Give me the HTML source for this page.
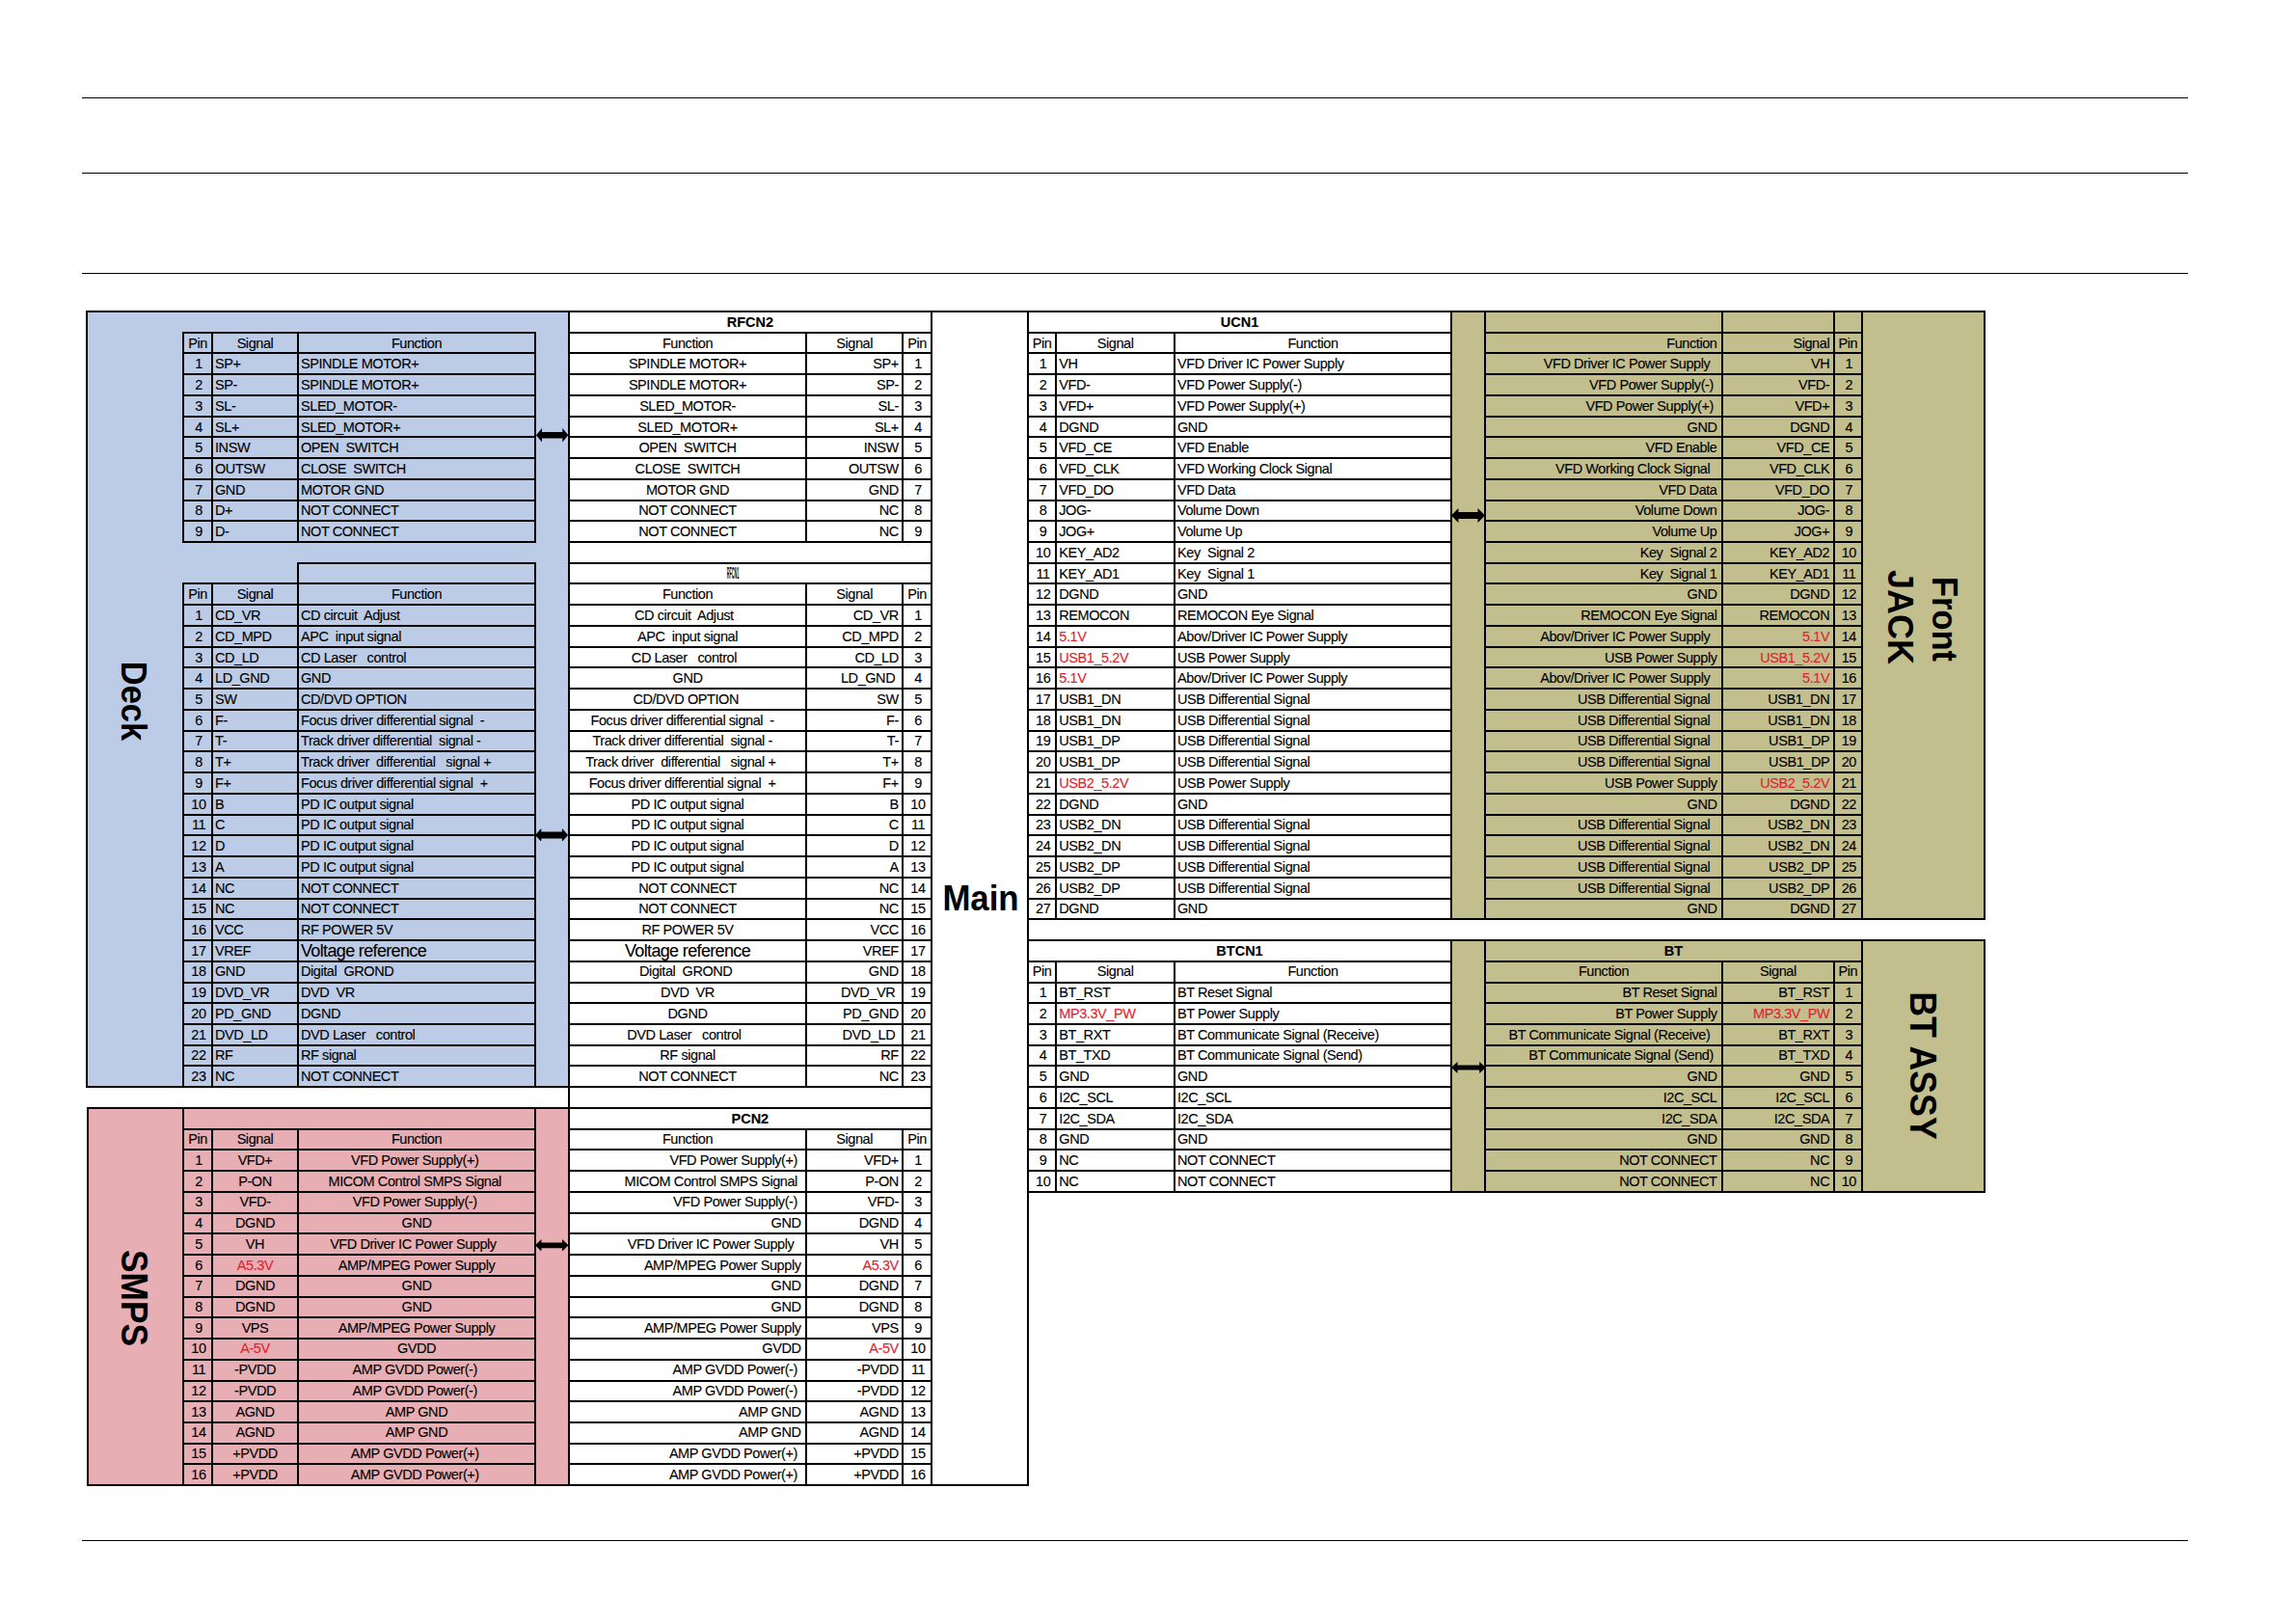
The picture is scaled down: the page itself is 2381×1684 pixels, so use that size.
<!DOCTYPE html>
<html><head><meta charset="utf-8"><title>Connector pin map</title><style>
*{margin:0;padding:0;box-sizing:border-box}
html,body{width:2381px;height:1684px;background:#fff;overflow:hidden}
body{position:relative;font-family:"Liberation Sans",sans-serif;color:#000}
.f,.l,.t,.ar,.lab{position:absolute}
.l{background:#000}
.t{height:21.738px;line-height:21.738px;font-size:14.5px;letter-spacing:-0.43px;-webkit-text-stroke:0.12px currentColor;white-space:pre;padding-top:2px;overflow:visible}
.t.tl{text-align:left;padding-left:2px}
.t.tc{text-align:center}
.t.tr{text-align:right;padding-right:3.5px}
.t.tr.fn{padding-right:4.5px}
.t.tc.pn{padding-left:2px}
.t.b{font-weight:bold;letter-spacing:0}
.t.red{color:#e0242e}
.t.big{font-size:18px;letter-spacing:-0.65px}
.t.sq span{display:inline-block}
.lab{font-weight:bold;white-space:nowrap;line-height:1}
.sq{position:absolute;font-weight:bold;font-size:16px;line-height:16px;width:60px;text-align:center;transform:scaleX(0.235);transform-origin:50% 50%}
</style></head>
<body>
<div class="f" style="left:90.0px;top:322.9px;width:500.0px;height:804.3px;background:#bdcce6"></div><div class="f" style="left:91.0px;top:1148.9px;width:499.0px;height:391.3px;background:#e7afb4"></div><div class="f" style="left:1505.0px;top:322.9px;width:553.0px;height:630.4px;background:#c2be8d"></div><div class="f" style="left:1505.0px;top:975.0px;width:553.0px;height:260.9px;background:#c2be8d"></div><div class="l" style="left:189px;top:344px;width:367px;height:2px"></div><div class="l" style="left:189px;top:365px;width:367px;height:2px"></div><div class="l" style="left:189px;top:387px;width:367px;height:2px"></div><div class="l" style="left:189px;top:409px;width:367px;height:2px"></div><div class="l" style="left:189px;top:431px;width:367px;height:2px"></div><div class="l" style="left:189px;top:452px;width:367px;height:2px"></div><div class="l" style="left:189px;top:474px;width:367px;height:2px"></div><div class="l" style="left:189px;top:496px;width:367px;height:2px"></div><div class="l" style="left:189px;top:518px;width:367px;height:2px"></div><div class="l" style="left:189px;top:539px;width:367px;height:2px"></div><div class="l" style="left:189px;top:561px;width:367px;height:2px"></div><div class="l" style="left:189px;top:344px;width:2px;height:219px"></div><div class="l" style="left:219px;top:344px;width:2px;height:219px"></div><div class="l" style="left:308px;top:344px;width:2px;height:219px"></div><div class="l" style="left:554px;top:344px;width:2px;height:219px"></div><div class="l" style="left:308px;top:583px;width:248px;height:2px"></div><div class="l" style="left:308px;top:583px;width:2px;height:23px"></div><div class="l" style="left:554px;top:583px;width:2px;height:23px"></div><div class="l" style="left:189px;top:604px;width:367px;height:2px"></div><div class="l" style="left:189px;top:626px;width:367px;height:2px"></div><div class="l" style="left:189px;top:648px;width:367px;height:2px"></div><div class="l" style="left:189px;top:670px;width:367px;height:2px"></div><div class="l" style="left:189px;top:691px;width:367px;height:2px"></div><div class="l" style="left:189px;top:713px;width:367px;height:2px"></div><div class="l" style="left:189px;top:735px;width:367px;height:2px"></div><div class="l" style="left:189px;top:757px;width:367px;height:2px"></div><div class="l" style="left:189px;top:778px;width:367px;height:2px"></div><div class="l" style="left:189px;top:800px;width:367px;height:2px"></div><div class="l" style="left:189px;top:822px;width:367px;height:2px"></div><div class="l" style="left:189px;top:844px;width:367px;height:2px"></div><div class="l" style="left:189px;top:865px;width:367px;height:2px"></div><div class="l" style="left:189px;top:887px;width:367px;height:2px"></div><div class="l" style="left:189px;top:909px;width:367px;height:2px"></div><div class="l" style="left:189px;top:931px;width:367px;height:2px"></div><div class="l" style="left:189px;top:952px;width:367px;height:2px"></div><div class="l" style="left:189px;top:974px;width:367px;height:2px"></div><div class="l" style="left:189px;top:996px;width:367px;height:2px"></div><div class="l" style="left:189px;top:1018px;width:367px;height:2px"></div><div class="l" style="left:189px;top:1039px;width:367px;height:2px"></div><div class="l" style="left:189px;top:1061px;width:367px;height:2px"></div><div class="l" style="left:189px;top:1083px;width:367px;height:2px"></div><div class="l" style="left:189px;top:1104px;width:367px;height:2px"></div><div class="l" style="left:189px;top:1126px;width:367px;height:2px"></div><div class="l" style="left:189px;top:604px;width:2px;height:524px"></div><div class="l" style="left:219px;top:604px;width:2px;height:524px"></div><div class="l" style="left:308px;top:604px;width:2px;height:524px"></div><div class="l" style="left:554px;top:604px;width:2px;height:524px"></div><div class="l" style="left:189px;top:1148px;width:367px;height:2px"></div><div class="l" style="left:189px;top:1170px;width:367px;height:2px"></div><div class="l" style="left:189px;top:1191px;width:367px;height:2px"></div><div class="l" style="left:189px;top:1213px;width:367px;height:2px"></div><div class="l" style="left:189px;top:1235px;width:367px;height:2px"></div><div class="l" style="left:189px;top:1257px;width:367px;height:2px"></div><div class="l" style="left:189px;top:1278px;width:367px;height:2px"></div><div class="l" style="left:189px;top:1300px;width:367px;height:2px"></div><div class="l" style="left:189px;top:1322px;width:367px;height:2px"></div><div class="l" style="left:189px;top:1344px;width:367px;height:2px"></div><div class="l" style="left:189px;top:1365px;width:367px;height:2px"></div><div class="l" style="left:189px;top:1387px;width:367px;height:2px"></div><div class="l" style="left:189px;top:1409px;width:367px;height:2px"></div><div class="l" style="left:189px;top:1431px;width:367px;height:2px"></div><div class="l" style="left:189px;top:1452px;width:367px;height:2px"></div><div class="l" style="left:189px;top:1474px;width:367px;height:2px"></div><div class="l" style="left:189px;top:1496px;width:367px;height:2px"></div><div class="l" style="left:189px;top:1517px;width:367px;height:2px"></div><div class="l" style="left:189px;top:1539px;width:367px;height:2px"></div><div class="l" style="left:189px;top:1148px;width:2px;height:393px"></div><div class="l" style="left:554px;top:1148px;width:2px;height:393px"></div><div class="l" style="left:219px;top:1170px;width:2px;height:371px"></div><div class="l" style="left:308px;top:1170px;width:2px;height:371px"></div><div class="l" style="left:89px;top:322px;width:1970px;height:2px"></div><div class="l" style="left:89px;top:322px;width:2px;height:806px"></div><div class="l" style="left:89px;top:1126px;width:502px;height:2px"></div><div class="l" style="left:90px;top:1148px;width:2px;height:393px"></div><div class="l" style="left:90px;top:1148px;width:501px;height:2px"></div><div class="l" style="left:90px;top:1539px;width:977px;height:2px"></div><div class="l" style="left:589px;top:322px;width:378px;height:2px"></div><div class="l" style="left:589px;top:344px;width:378px;height:2px"></div><div class="l" style="left:589px;top:365px;width:378px;height:2px"></div><div class="l" style="left:589px;top:387px;width:378px;height:2px"></div><div class="l" style="left:589px;top:409px;width:378px;height:2px"></div><div class="l" style="left:589px;top:431px;width:378px;height:2px"></div><div class="l" style="left:589px;top:452px;width:378px;height:2px"></div><div class="l" style="left:589px;top:474px;width:378px;height:2px"></div><div class="l" style="left:589px;top:496px;width:378px;height:2px"></div><div class="l" style="left:589px;top:518px;width:378px;height:2px"></div><div class="l" style="left:589px;top:539px;width:378px;height:2px"></div><div class="l" style="left:589px;top:561px;width:378px;height:2px"></div><div class="l" style="left:589px;top:583px;width:378px;height:2px"></div><div class="l" style="left:589px;top:604px;width:378px;height:2px"></div><div class="l" style="left:589px;top:626px;width:378px;height:2px"></div><div class="l" style="left:589px;top:648px;width:378px;height:2px"></div><div class="l" style="left:589px;top:670px;width:378px;height:2px"></div><div class="l" style="left:589px;top:691px;width:378px;height:2px"></div><div class="l" style="left:589px;top:713px;width:378px;height:2px"></div><div class="l" style="left:589px;top:735px;width:378px;height:2px"></div><div class="l" style="left:589px;top:757px;width:378px;height:2px"></div><div class="l" style="left:589px;top:778px;width:378px;height:2px"></div><div class="l" style="left:589px;top:800px;width:378px;height:2px"></div><div class="l" style="left:589px;top:822px;width:378px;height:2px"></div><div class="l" style="left:589px;top:844px;width:378px;height:2px"></div><div class="l" style="left:589px;top:865px;width:378px;height:2px"></div><div class="l" style="left:589px;top:887px;width:378px;height:2px"></div><div class="l" style="left:589px;top:909px;width:378px;height:2px"></div><div class="l" style="left:589px;top:931px;width:378px;height:2px"></div><div class="l" style="left:589px;top:952px;width:378px;height:2px"></div><div class="l" style="left:589px;top:974px;width:378px;height:2px"></div><div class="l" style="left:589px;top:996px;width:378px;height:2px"></div><div class="l" style="left:589px;top:1018px;width:378px;height:2px"></div><div class="l" style="left:589px;top:1039px;width:378px;height:2px"></div><div class="l" style="left:589px;top:1061px;width:378px;height:2px"></div><div class="l" style="left:589px;top:1083px;width:378px;height:2px"></div><div class="l" style="left:589px;top:1104px;width:378px;height:2px"></div><div class="l" style="left:589px;top:1126px;width:378px;height:2px"></div><div class="l" style="left:589px;top:1148px;width:378px;height:2px"></div><div class="l" style="left:589px;top:1170px;width:378px;height:2px"></div><div class="l" style="left:589px;top:1191px;width:378px;height:2px"></div><div class="l" style="left:589px;top:1213px;width:378px;height:2px"></div><div class="l" style="left:589px;top:1235px;width:378px;height:2px"></div><div class="l" style="left:589px;top:1257px;width:378px;height:2px"></div><div class="l" style="left:589px;top:1278px;width:378px;height:2px"></div><div class="l" style="left:589px;top:1300px;width:378px;height:2px"></div><div class="l" style="left:589px;top:1322px;width:378px;height:2px"></div><div class="l" style="left:589px;top:1344px;width:378px;height:2px"></div><div class="l" style="left:589px;top:1365px;width:378px;height:2px"></div><div class="l" style="left:589px;top:1387px;width:378px;height:2px"></div><div class="l" style="left:589px;top:1409px;width:378px;height:2px"></div><div class="l" style="left:589px;top:1431px;width:378px;height:2px"></div><div class="l" style="left:589px;top:1452px;width:378px;height:2px"></div><div class="l" style="left:589px;top:1474px;width:378px;height:2px"></div><div class="l" style="left:589px;top:1496px;width:378px;height:2px"></div><div class="l" style="left:589px;top:1517px;width:378px;height:2px"></div><div class="l" style="left:589px;top:1539px;width:378px;height:2px"></div><div class="l" style="left:589px;top:322px;width:2px;height:1219px"></div><div class="l" style="left:965px;top:322px;width:2px;height:1219px"></div><div class="l" style="left:835px;top:344px;width:2px;height:219px"></div><div class="l" style="left:935px;top:344px;width:2px;height:219px"></div><div class="l" style="left:835px;top:604px;width:2px;height:524px"></div><div class="l" style="left:935px;top:604px;width:2px;height:524px"></div><div class="l" style="left:835px;top:1170px;width:2px;height:371px"></div><div class="l" style="left:935px;top:1170px;width:2px;height:371px"></div><div class="l" style="left:1065px;top:322px;width:2px;height:1219px"></div><div class="l" style="left:1065px;top:322px;width:441px;height:2px"></div><div class="l" style="left:1065px;top:344px;width:441px;height:2px"></div><div class="l" style="left:1065px;top:365px;width:441px;height:2px"></div><div class="l" style="left:1065px;top:387px;width:441px;height:2px"></div><div class="l" style="left:1065px;top:409px;width:441px;height:2px"></div><div class="l" style="left:1065px;top:431px;width:441px;height:2px"></div><div class="l" style="left:1065px;top:452px;width:441px;height:2px"></div><div class="l" style="left:1065px;top:474px;width:441px;height:2px"></div><div class="l" style="left:1065px;top:496px;width:441px;height:2px"></div><div class="l" style="left:1065px;top:518px;width:441px;height:2px"></div><div class="l" style="left:1065px;top:539px;width:441px;height:2px"></div><div class="l" style="left:1065px;top:561px;width:441px;height:2px"></div><div class="l" style="left:1065px;top:583px;width:441px;height:2px"></div><div class="l" style="left:1065px;top:604px;width:441px;height:2px"></div><div class="l" style="left:1065px;top:626px;width:441px;height:2px"></div><div class="l" style="left:1065px;top:648px;width:441px;height:2px"></div><div class="l" style="left:1065px;top:670px;width:441px;height:2px"></div><div class="l" style="left:1065px;top:691px;width:441px;height:2px"></div><div class="l" style="left:1065px;top:713px;width:441px;height:2px"></div><div class="l" style="left:1065px;top:735px;width:441px;height:2px"></div><div class="l" style="left:1065px;top:757px;width:441px;height:2px"></div><div class="l" style="left:1065px;top:778px;width:441px;height:2px"></div><div class="l" style="left:1065px;top:800px;width:441px;height:2px"></div><div class="l" style="left:1065px;top:822px;width:441px;height:2px"></div><div class="l" style="left:1065px;top:844px;width:441px;height:2px"></div><div class="l" style="left:1065px;top:865px;width:441px;height:2px"></div><div class="l" style="left:1065px;top:887px;width:441px;height:2px"></div><div class="l" style="left:1065px;top:909px;width:441px;height:2px"></div><div class="l" style="left:1065px;top:931px;width:441px;height:2px"></div><div class="l" style="left:1065px;top:952px;width:441px;height:2px"></div><div class="l" style="left:1504px;top:322px;width:2px;height:632px"></div><div class="l" style="left:1094px;top:344px;width:2px;height:610px"></div><div class="l" style="left:1217px;top:344px;width:2px;height:610px"></div><div class="l" style="left:1504px;top:952px;width:555px;height:2px"></div><div class="l" style="left:1504px;top:974px;width:555px;height:2px"></div><div class="l" style="left:1065px;top:974px;width:441px;height:2px"></div><div class="l" style="left:1065px;top:996px;width:441px;height:2px"></div><div class="l" style="left:1065px;top:1018px;width:441px;height:2px"></div><div class="l" style="left:1065px;top:1039px;width:441px;height:2px"></div><div class="l" style="left:1065px;top:1061px;width:441px;height:2px"></div><div class="l" style="left:1065px;top:1083px;width:441px;height:2px"></div><div class="l" style="left:1065px;top:1104px;width:441px;height:2px"></div><div class="l" style="left:1065px;top:1126px;width:441px;height:2px"></div><div class="l" style="left:1065px;top:1148px;width:441px;height:2px"></div><div class="l" style="left:1065px;top:1170px;width:441px;height:2px"></div><div class="l" style="left:1065px;top:1191px;width:441px;height:2px"></div><div class="l" style="left:1065px;top:1213px;width:441px;height:2px"></div><div class="l" style="left:1065px;top:1235px;width:441px;height:2px"></div><div class="l" style="left:1504px;top:974px;width:2px;height:263px"></div><div class="l" style="left:1094px;top:996px;width:2px;height:241px"></div><div class="l" style="left:1217px;top:996px;width:2px;height:241px"></div><div class="l" style="left:1504px;top:322px;width:555px;height:2px"></div><div class="l" style="left:1539px;top:344px;width:393px;height:2px"></div><div class="l" style="left:1539px;top:365px;width:393px;height:2px"></div><div class="l" style="left:1539px;top:387px;width:393px;height:2px"></div><div class="l" style="left:1539px;top:409px;width:393px;height:2px"></div><div class="l" style="left:1539px;top:431px;width:393px;height:2px"></div><div class="l" style="left:1539px;top:452px;width:393px;height:2px"></div><div class="l" style="left:1539px;top:474px;width:393px;height:2px"></div><div class="l" style="left:1539px;top:496px;width:393px;height:2px"></div><div class="l" style="left:1539px;top:518px;width:393px;height:2px"></div><div class="l" style="left:1539px;top:539px;width:393px;height:2px"></div><div class="l" style="left:1539px;top:561px;width:393px;height:2px"></div><div class="l" style="left:1539px;top:583px;width:393px;height:2px"></div><div class="l" style="left:1539px;top:604px;width:393px;height:2px"></div><div class="l" style="left:1539px;top:626px;width:393px;height:2px"></div><div class="l" style="left:1539px;top:648px;width:393px;height:2px"></div><div class="l" style="left:1539px;top:670px;width:393px;height:2px"></div><div class="l" style="left:1539px;top:691px;width:393px;height:2px"></div><div class="l" style="left:1539px;top:713px;width:393px;height:2px"></div><div class="l" style="left:1539px;top:735px;width:393px;height:2px"></div><div class="l" style="left:1539px;top:757px;width:393px;height:2px"></div><div class="l" style="left:1539px;top:778px;width:393px;height:2px"></div><div class="l" style="left:1539px;top:800px;width:393px;height:2px"></div><div class="l" style="left:1539px;top:822px;width:393px;height:2px"></div><div class="l" style="left:1539px;top:844px;width:393px;height:2px"></div><div class="l" style="left:1539px;top:865px;width:393px;height:2px"></div><div class="l" style="left:1539px;top:887px;width:393px;height:2px"></div><div class="l" style="left:1539px;top:909px;width:393px;height:2px"></div><div class="l" style="left:1539px;top:931px;width:393px;height:2px"></div><div class="l" style="left:1539px;top:322px;width:2px;height:632px"></div><div class="l" style="left:1785px;top:322px;width:2px;height:632px"></div><div class="l" style="left:1901px;top:322px;width:2px;height:632px"></div><div class="l" style="left:1930px;top:322px;width:2px;height:632px"></div><div class="l" style="left:2057px;top:322px;width:2px;height:632px"></div><div class="l" style="left:1504px;top:1235px;width:555px;height:2px"></div><div class="l" style="left:1539px;top:996px;width:393px;height:2px"></div><div class="l" style="left:1539px;top:1018px;width:393px;height:2px"></div><div class="l" style="left:1539px;top:1039px;width:393px;height:2px"></div><div class="l" style="left:1539px;top:1061px;width:393px;height:2px"></div><div class="l" style="left:1539px;top:1083px;width:393px;height:2px"></div><div class="l" style="left:1539px;top:1104px;width:393px;height:2px"></div><div class="l" style="left:1539px;top:1126px;width:393px;height:2px"></div><div class="l" style="left:1539px;top:1148px;width:393px;height:2px"></div><div class="l" style="left:1539px;top:1170px;width:393px;height:2px"></div><div class="l" style="left:1539px;top:1191px;width:393px;height:2px"></div><div class="l" style="left:1539px;top:1213px;width:393px;height:2px"></div><div class="l" style="left:1539px;top:974px;width:2px;height:263px"></div><div class="l" style="left:1930px;top:974px;width:2px;height:263px"></div><div class="l" style="left:2057px;top:974px;width:2px;height:263px"></div><div class="l" style="left:1785px;top:996px;width:2px;height:241px"></div><div class="l" style="left:1901px;top:996px;width:2px;height:241px"></div><div class="l" style="left:85px;top:101px;width:2184px;height:1px"></div><div class="l" style="left:85px;top:179px;width:2184px;height:1px"></div><div class="l" style="left:85px;top:283px;width:2184px;height:1px"></div><div class="l" style="left:85px;top:1597px;width:2184px;height:1px"></div><svg class="ar" style="left:555.7px;top:444.3px" width="33.3" height="14.4"><polygon points="0.0,7.2 6.0,0.0 6.0,4.0 27.3,4.0 27.3,0.0 33.3,7.2 27.3,14.4 27.3,10.4 6.0,10.4 6.0,14.4" fill="#000"/></svg><svg class="ar" style="left:554.8px;top:858.6px" width="34.2" height="13.8"><polygon points="0.0,6.9 6.3,0.0 6.3,3.4 27.9,3.4 27.9,0.0 34.2,6.9 27.9,13.8 27.9,10.4 6.3,10.4 6.3,13.8" fill="#000"/></svg><svg class="ar" style="left:555.0px;top:1284.6px" width="34.5" height="12.6"><polygon points="0.0,6.3 6.5,0.0 6.5,3.4 28.0,3.4 28.0,0.0 34.5,6.3 28.0,12.6 28.0,9.2 6.5,9.2 6.5,12.6" fill="#000"/></svg><svg class="ar" style="left:1504.6px;top:527.0px" width="34.9" height="15.0"><polygon points="0.0,7.5 7.4,0.0 7.4,4.0 27.5,4.0 27.5,0.0 34.9,7.5 27.5,15.0 27.5,11.0 7.4,11.0 7.4,15.0" fill="#000"/></svg><svg class="ar" style="left:1504.8px;top:1100.9px" width="35.7" height="12.0"><polygon points="0.0,6.0 6.5,0.0 6.5,3.4 29.2,3.4 29.2,0.0 35.7,6.0 29.2,12.0 29.2,8.6 6.5,8.6 6.5,12.0" fill="#000"/></svg>
<div class="t tc" style="left:191.0px;top:343.6px;width:28.0px;">Pin</div><div class="t tc" style="left:221.0px;top:343.6px;width:87.0px;">Signal</div><div class="t tc" style="left:310.0px;top:343.6px;width:244.0px;">Function</div><div class="t tc pn" style="left:191.0px;top:365.4px;width:28.0px;">1</div><div class="t tl" style="left:221.0px;top:365.4px;width:87.0px;">SP+</div><div class="t tl" style="left:310.0px;top:365.4px;width:244.0px;">SPINDLE MOTOR+</div><div class="t tc pn" style="left:191.0px;top:387.1px;width:28.0px;">2</div><div class="t tl" style="left:221.0px;top:387.1px;width:87.0px;">SP-</div><div class="t tl" style="left:310.0px;top:387.1px;width:244.0px;">SPINDLE MOTOR+</div><div class="t tc pn" style="left:191.0px;top:408.8px;width:28.0px;">3</div><div class="t tl" style="left:221.0px;top:408.8px;width:87.0px;">SL-</div><div class="t tl" style="left:310.0px;top:408.8px;width:244.0px;">SLED_MOTOR-</div><div class="t tc pn" style="left:191.0px;top:430.5px;width:28.0px;">4</div><div class="t tl" style="left:221.0px;top:430.5px;width:87.0px;">SL+</div><div class="t tl" style="left:310.0px;top:430.5px;width:244.0px;">SLED_MOTOR+</div><div class="t tc pn" style="left:191.0px;top:452.3px;width:28.0px;">5</div><div class="t tl" style="left:221.0px;top:452.3px;width:87.0px;">INSW</div><div class="t tl" style="left:310.0px;top:452.3px;width:244.0px;">OPEN  SWITCH</div><div class="t tc pn" style="left:191.0px;top:474.0px;width:28.0px;">6</div><div class="t tl" style="left:221.0px;top:474.0px;width:87.0px;">OUTSW</div><div class="t tl" style="left:310.0px;top:474.0px;width:244.0px;">CLOSE  SWITCH</div><div class="t tc pn" style="left:191.0px;top:495.7px;width:28.0px;">7</div><div class="t tl" style="left:221.0px;top:495.7px;width:87.0px;">GND</div><div class="t tl" style="left:310.0px;top:495.7px;width:244.0px;">MOTOR GND</div><div class="t tc pn" style="left:191.0px;top:517.4px;width:28.0px;">8</div><div class="t tl" style="left:221.0px;top:517.4px;width:87.0px;">D+</div><div class="t tl" style="left:310.0px;top:517.4px;width:244.0px;">NOT CONNECT</div><div class="t tc pn" style="left:191.0px;top:539.2px;width:28.0px;">9</div><div class="t tl" style="left:221.0px;top:539.2px;width:87.0px;">D-</div><div class="t tl" style="left:310.0px;top:539.2px;width:244.0px;">NOT CONNECT</div><div class="t tc" style="left:191.0px;top:604.3px;width:28.0px;">Pin</div><div class="t tc" style="left:221.0px;top:604.3px;width:87.0px;">Signal</div><div class="t tc" style="left:310.0px;top:604.3px;width:244.0px;">Function</div><div class="t tc pn" style="left:191.0px;top:626.1px;width:28.0px;">1</div><div class="t tl" style="left:221.0px;top:626.1px;width:87.0px;">CD_VR</div><div class="t tl" style="left:310.0px;top:626.1px;width:244.0px;">CD circuit  Adjust  </div><div class="t tc pn" style="left:191.0px;top:647.8px;width:28.0px;">2</div><div class="t tl" style="left:221.0px;top:647.8px;width:87.0px;">CD_MPD</div><div class="t tl" style="left:310.0px;top:647.8px;width:244.0px;">APC  input signal</div><div class="t tc pn" style="left:191.0px;top:669.5px;width:28.0px;">3</div><div class="t tl" style="left:221.0px;top:669.5px;width:87.0px;">CD_LD</div><div class="t tl" style="left:310.0px;top:669.5px;width:244.0px;">CD Laser   control  </div><div class="t tc pn" style="left:191.0px;top:691.2px;width:28.0px;">4</div><div class="t tl" style="left:221.0px;top:691.2px;width:87.0px;">LD_GND </div><div class="t tl" style="left:310.0px;top:691.2px;width:244.0px;">GND</div><div class="t tc pn" style="left:191.0px;top:713.0px;width:28.0px;">5</div><div class="t tl" style="left:221.0px;top:713.0px;width:87.0px;">SW</div><div class="t tl" style="left:310.0px;top:713.0px;width:244.0px;">CD/DVD OPTION </div><div class="t tc pn" style="left:191.0px;top:734.7px;width:28.0px;">6</div><div class="t tl" style="left:221.0px;top:734.7px;width:87.0px;">F-</div><div class="t tl" style="left:310.0px;top:734.7px;width:244.0px;">Focus driver differential signal  -   </div><div class="t tc pn" style="left:191.0px;top:756.4px;width:28.0px;">7</div><div class="t tl" style="left:221.0px;top:756.4px;width:87.0px;">T-</div><div class="t tl" style="left:310.0px;top:756.4px;width:244.0px;">Track driver differential  signal -   </div><div class="t tc pn" style="left:191.0px;top:778.1px;width:28.0px;">8</div><div class="t tl" style="left:221.0px;top:778.1px;width:87.0px;">T+</div><div class="t tl" style="left:310.0px;top:778.1px;width:244.0px;">Track driver  differential   signal +    </div><div class="t tc pn" style="left:191.0px;top:799.9px;width:28.0px;">9</div><div class="t tl" style="left:221.0px;top:799.9px;width:87.0px;">F+</div><div class="t tl" style="left:310.0px;top:799.9px;width:244.0px;">Focus driver differential signal  +   </div><div class="t tc pn" style="left:191.0px;top:821.6px;width:28.0px;">10</div><div class="t tl" style="left:221.0px;top:821.6px;width:87.0px;">B</div><div class="t tl" style="left:310.0px;top:821.6px;width:244.0px;">PD IC output signal</div><div class="t tc pn" style="left:191.0px;top:843.3px;width:28.0px;">11</div><div class="t tl" style="left:221.0px;top:843.3px;width:87.0px;">C</div><div class="t tl" style="left:310.0px;top:843.3px;width:244.0px;">PD IC output signal</div><div class="t tc pn" style="left:191.0px;top:865.0px;width:28.0px;">12</div><div class="t tl" style="left:221.0px;top:865.0px;width:87.0px;">D</div><div class="t tl" style="left:310.0px;top:865.0px;width:244.0px;">PD IC output signal</div><div class="t tc pn" style="left:191.0px;top:886.8px;width:28.0px;">13</div><div class="t tl" style="left:221.0px;top:886.8px;width:87.0px;">A</div><div class="t tl" style="left:310.0px;top:886.8px;width:244.0px;">PD IC output signal</div><div class="t tc pn" style="left:191.0px;top:908.5px;width:28.0px;">14</div><div class="t tl" style="left:221.0px;top:908.5px;width:87.0px;">NC</div><div class="t tl" style="left:310.0px;top:908.5px;width:244.0px;">NOT CONNECT</div><div class="t tc pn" style="left:191.0px;top:930.2px;width:28.0px;">15</div><div class="t tl" style="left:221.0px;top:930.2px;width:87.0px;">NC</div><div class="t tl" style="left:310.0px;top:930.2px;width:244.0px;">NOT CONNECT</div><div class="t tc pn" style="left:191.0px;top:951.9px;width:28.0px;">16</div><div class="t tl" style="left:221.0px;top:951.9px;width:87.0px;">VCC</div><div class="t tl" style="left:310.0px;top:951.9px;width:244.0px;">RF POWER 5V</div><div class="t tc pn" style="left:191.0px;top:973.7px;width:28.0px;">17</div><div class="t tl" style="left:221.0px;top:973.7px;width:87.0px;">VREF</div><div class="t tl big" style="left:310.0px;top:973.7px;width:244.0px;">Voltage reference</div><div class="t tc pn" style="left:191.0px;top:995.4px;width:28.0px;">18</div><div class="t tl" style="left:221.0px;top:995.4px;width:87.0px;">GND</div><div class="t tl" style="left:310.0px;top:995.4px;width:244.0px;">Digital  GROND </div><div class="t tc pn" style="left:191.0px;top:1017.1px;width:28.0px;">19</div><div class="t tl" style="left:221.0px;top:1017.1px;width:87.0px;">DVD_VR </div><div class="t tl" style="left:310.0px;top:1017.1px;width:244.0px;">DVD  VR</div><div class="t tc pn" style="left:191.0px;top:1038.8px;width:28.0px;">20</div><div class="t tl" style="left:221.0px;top:1038.8px;width:87.0px;">PD_GND</div><div class="t tl" style="left:310.0px;top:1038.8px;width:244.0px;">DGND</div><div class="t tc pn" style="left:191.0px;top:1060.6px;width:28.0px;">21</div><div class="t tl" style="left:221.0px;top:1060.6px;width:87.0px;">DVD_LD </div><div class="t tl" style="left:310.0px;top:1060.6px;width:244.0px;">DVD Laser   control  </div><div class="t tc pn" style="left:191.0px;top:1082.3px;width:28.0px;">22</div><div class="t tl" style="left:221.0px;top:1082.3px;width:87.0px;">RF</div><div class="t tl" style="left:310.0px;top:1082.3px;width:244.0px;">RF signal</div><div class="t tc pn" style="left:191.0px;top:1104.0px;width:28.0px;">23</div><div class="t tl" style="left:221.0px;top:1104.0px;width:87.0px;">NC</div><div class="t tl" style="left:310.0px;top:1104.0px;width:244.0px;">NOT CONNECT</div><div class="t tc" style="left:191.0px;top:1169.2px;width:28.0px;">Pin</div><div class="t tc" style="left:221.0px;top:1169.2px;width:87.0px;">Signal</div><div class="t tc" style="left:310.0px;top:1169.2px;width:244.0px;">Function</div><div class="t tc pn" style="left:191.0px;top:1190.9px;width:28.0px;">1</div><div class="t tc" style="left:221.0px;top:1190.9px;width:87.0px;">VFD+</div><div class="t tc" style="left:310.0px;top:1190.9px;width:244.0px;">VFD Power Supply(+) </div><div class="t tc pn" style="left:191.0px;top:1212.6px;width:28.0px;">2</div><div class="t tc" style="left:221.0px;top:1212.6px;width:87.0px;">P-ON</div><div class="t tc" style="left:310.0px;top:1212.6px;width:244.0px;">MICOM Control SMPS Signal </div><div class="t tc pn" style="left:191.0px;top:1234.4px;width:28.0px;">3</div><div class="t tc" style="left:221.0px;top:1234.4px;width:87.0px;">VFD-</div><div class="t tc" style="left:310.0px;top:1234.4px;width:244.0px;">VFD Power Supply(-) </div><div class="t tc pn" style="left:191.0px;top:1256.1px;width:28.0px;">4</div><div class="t tc" style="left:221.0px;top:1256.1px;width:87.0px;">DGND</div><div class="t tc" style="left:310.0px;top:1256.1px;width:244.0px;">GND</div><div class="t tc pn" style="left:191.0px;top:1277.8px;width:28.0px;">5</div><div class="t tc" style="left:221.0px;top:1277.8px;width:87.0px;">VH</div><div class="t tc" style="left:310.0px;top:1277.8px;width:244.0px;">VFD Driver IC Power Supply  </div><div class="t tc pn" style="left:191.0px;top:1299.5px;width:28.0px;">6</div><div class="t tc red" style="left:221.0px;top:1299.5px;width:87.0px;">A5.3V</div><div class="t tc" style="left:310.0px;top:1299.5px;width:244.0px;">AMP/MPEG Power Supply</div><div class="t tc pn" style="left:191.0px;top:1321.3px;width:28.0px;">7</div><div class="t tc" style="left:221.0px;top:1321.3px;width:87.0px;">DGND</div><div class="t tc" style="left:310.0px;top:1321.3px;width:244.0px;">GND</div><div class="t tc pn" style="left:191.0px;top:1343.0px;width:28.0px;">8</div><div class="t tc" style="left:221.0px;top:1343.0px;width:87.0px;">DGND</div><div class="t tc" style="left:310.0px;top:1343.0px;width:244.0px;">GND</div><div class="t tc pn" style="left:191.0px;top:1364.7px;width:28.0px;">9</div><div class="t tc" style="left:221.0px;top:1364.7px;width:87.0px;">VPS</div><div class="t tc" style="left:310.0px;top:1364.7px;width:244.0px;">AMP/MPEG Power Supply</div><div class="t tc pn" style="left:191.0px;top:1386.4px;width:28.0px;">10</div><div class="t tc red" style="left:221.0px;top:1386.4px;width:87.0px;">A-5V</div><div class="t tc" style="left:310.0px;top:1386.4px;width:244.0px;">GVDD</div><div class="t tc pn" style="left:191.0px;top:1408.2px;width:28.0px;">11</div><div class="t tc" style="left:221.0px;top:1408.2px;width:87.0px;">-PVDD</div><div class="t tc" style="left:310.0px;top:1408.2px;width:244.0px;">AMP GVDD Power(-) </div><div class="t tc pn" style="left:191.0px;top:1429.9px;width:28.0px;">12</div><div class="t tc" style="left:221.0px;top:1429.9px;width:87.0px;">-PVDD</div><div class="t tc" style="left:310.0px;top:1429.9px;width:244.0px;">AMP GVDD Power(-) </div><div class="t tc pn" style="left:191.0px;top:1451.6px;width:28.0px;">13</div><div class="t tc" style="left:221.0px;top:1451.6px;width:87.0px;">AGND</div><div class="t tc" style="left:310.0px;top:1451.6px;width:244.0px;">AMP GND</div><div class="t tc pn" style="left:191.0px;top:1473.3px;width:28.0px;">14</div><div class="t tc" style="left:221.0px;top:1473.3px;width:87.0px;">AGND</div><div class="t tc" style="left:310.0px;top:1473.3px;width:244.0px;">AMP GND</div><div class="t tc pn" style="left:191.0px;top:1495.1px;width:28.0px;">15</div><div class="t tc" style="left:221.0px;top:1495.1px;width:87.0px;">+PVDD</div><div class="t tc" style="left:310.0px;top:1495.1px;width:244.0px;">AMP GVDD Power(+) </div><div class="t tc pn" style="left:191.0px;top:1516.8px;width:28.0px;">16</div><div class="t tc" style="left:221.0px;top:1516.8px;width:87.0px;">+PVDD</div><div class="t tc" style="left:310.0px;top:1516.8px;width:244.0px;">AMP GVDD Power(+) </div><div class="t tc b" style="left:591.0px;top:321.9px;width:373.7px;">RFCN2</div><div class="sq" style="left:730px;top:586.5px">RFCN1</div><div class="t tc b" style="left:591.0px;top:1147.5px;width:373.7px;">PCN2</div><div class="t tc" style="left:591.0px;top:343.6px;width:244.0px;">Function</div><div class="t tc" style="left:837.0px;top:343.6px;width:98.3px;">Signal</div><div class="t tc" style="left:937.3px;top:343.6px;width:27.4px;">Pin</div><div class="t tc" style="left:591.0px;top:604.3px;width:244.0px;">Function</div><div class="t tc" style="left:837.0px;top:604.3px;width:98.3px;">Signal</div><div class="t tc" style="left:937.3px;top:604.3px;width:27.4px;">Pin</div><div class="t tc" style="left:591.0px;top:1169.2px;width:244.0px;">Function</div><div class="t tc" style="left:837.0px;top:1169.2px;width:98.3px;">Signal</div><div class="t tc" style="left:937.3px;top:1169.2px;width:27.4px;">Pin</div><div class="t tc" style="left:591.0px;top:365.4px;width:244.0px;">SPINDLE MOTOR+</div><div class="t tr" style="left:837.0px;top:365.4px;width:98.3px;">SP+</div><div class="t tc pn" style="left:937.3px;top:365.4px;width:27.4px;">1</div><div class="t tc" style="left:591.0px;top:387.1px;width:244.0px;">SPINDLE MOTOR+</div><div class="t tr" style="left:837.0px;top:387.1px;width:98.3px;">SP-</div><div class="t tc pn" style="left:937.3px;top:387.1px;width:27.4px;">2</div><div class="t tc" style="left:591.0px;top:408.8px;width:244.0px;">SLED_MOTOR-</div><div class="t tr" style="left:837.0px;top:408.8px;width:98.3px;">SL-</div><div class="t tc pn" style="left:937.3px;top:408.8px;width:27.4px;">3</div><div class="t tc" style="left:591.0px;top:430.5px;width:244.0px;">SLED_MOTOR+</div><div class="t tr" style="left:837.0px;top:430.5px;width:98.3px;">SL+</div><div class="t tc pn" style="left:937.3px;top:430.5px;width:27.4px;">4</div><div class="t tc" style="left:591.0px;top:452.3px;width:244.0px;">OPEN  SWITCH</div><div class="t tr" style="left:837.0px;top:452.3px;width:98.3px;">INSW</div><div class="t tc pn" style="left:937.3px;top:452.3px;width:27.4px;">5</div><div class="t tc" style="left:591.0px;top:474.0px;width:244.0px;">CLOSE  SWITCH</div><div class="t tr" style="left:837.0px;top:474.0px;width:98.3px;">OUTSW</div><div class="t tc pn" style="left:937.3px;top:474.0px;width:27.4px;">6</div><div class="t tc" style="left:591.0px;top:495.7px;width:244.0px;">MOTOR GND</div><div class="t tr" style="left:837.0px;top:495.7px;width:98.3px;">GND</div><div class="t tc pn" style="left:937.3px;top:495.7px;width:27.4px;">7</div><div class="t tc" style="left:591.0px;top:517.4px;width:244.0px;">NOT CONNECT</div><div class="t tr" style="left:837.0px;top:517.4px;width:98.3px;">NC</div><div class="t tc pn" style="left:937.3px;top:517.4px;width:27.4px;">8</div><div class="t tc" style="left:591.0px;top:539.2px;width:244.0px;">NOT CONNECT</div><div class="t tr" style="left:837.0px;top:539.2px;width:98.3px;">NC</div><div class="t tc pn" style="left:937.3px;top:539.2px;width:27.4px;">9</div><div class="t tc" style="left:591.0px;top:626.1px;width:244.0px;">CD circuit  Adjust  </div><div class="t tr" style="left:837.0px;top:626.1px;width:98.3px;">CD_VR</div><div class="t tc pn" style="left:937.3px;top:626.1px;width:27.4px;">1</div><div class="t tc" style="left:591.0px;top:647.8px;width:244.0px;">APC  input signal</div><div class="t tr" style="left:837.0px;top:647.8px;width:98.3px;">CD_MPD</div><div class="t tc pn" style="left:937.3px;top:647.8px;width:27.4px;">2</div><div class="t tc" style="left:591.0px;top:669.5px;width:244.0px;">CD Laser   control  </div><div class="t tr" style="left:837.0px;top:669.5px;width:98.3px;">CD_LD</div><div class="t tc pn" style="left:937.3px;top:669.5px;width:27.4px;">3</div><div class="t tc" style="left:591.0px;top:691.2px;width:244.0px;">GND</div><div class="t tr" style="left:837.0px;top:691.2px;width:98.3px;">LD_GND </div><div class="t tc pn" style="left:937.3px;top:691.2px;width:27.4px;">4</div><div class="t tc" style="left:591.0px;top:713.0px;width:244.0px;">CD/DVD OPTION </div><div class="t tr" style="left:837.0px;top:713.0px;width:98.3px;">SW</div><div class="t tc pn" style="left:937.3px;top:713.0px;width:27.4px;">5</div><div class="t tc" style="left:591.0px;top:734.7px;width:244.0px;">Focus driver differential signal  -   </div><div class="t tr" style="left:837.0px;top:734.7px;width:98.3px;">F-</div><div class="t tc pn" style="left:937.3px;top:734.7px;width:27.4px;">6</div><div class="t tc" style="left:591.0px;top:756.4px;width:244.0px;">Track driver differential  signal -   </div><div class="t tr" style="left:837.0px;top:756.4px;width:98.3px;">T-</div><div class="t tc pn" style="left:937.3px;top:756.4px;width:27.4px;">7</div><div class="t tc" style="left:591.0px;top:778.1px;width:244.0px;">Track driver  differential   signal +    </div><div class="t tr" style="left:837.0px;top:778.1px;width:98.3px;">T+</div><div class="t tc pn" style="left:937.3px;top:778.1px;width:27.4px;">8</div><div class="t tc" style="left:591.0px;top:799.9px;width:244.0px;">Focus driver differential signal  +   </div><div class="t tr" style="left:837.0px;top:799.9px;width:98.3px;">F+</div><div class="t tc pn" style="left:937.3px;top:799.9px;width:27.4px;">9</div><div class="t tc" style="left:591.0px;top:821.6px;width:244.0px;">PD IC output signal</div><div class="t tr" style="left:837.0px;top:821.6px;width:98.3px;">B</div><div class="t tc pn" style="left:937.3px;top:821.6px;width:27.4px;">10</div><div class="t tc" style="left:591.0px;top:843.3px;width:244.0px;">PD IC output signal</div><div class="t tr" style="left:837.0px;top:843.3px;width:98.3px;">C</div><div class="t tc pn" style="left:937.3px;top:843.3px;width:27.4px;">11</div><div class="t tc" style="left:591.0px;top:865.0px;width:244.0px;">PD IC output signal</div><div class="t tr" style="left:837.0px;top:865.0px;width:98.3px;">D</div><div class="t tc pn" style="left:937.3px;top:865.0px;width:27.4px;">12</div><div class="t tc" style="left:591.0px;top:886.8px;width:244.0px;">PD IC output signal</div><div class="t tr" style="left:837.0px;top:886.8px;width:98.3px;">A</div><div class="t tc pn" style="left:937.3px;top:886.8px;width:27.4px;">13</div><div class="t tc" style="left:591.0px;top:908.5px;width:244.0px;">NOT CONNECT</div><div class="t tr" style="left:837.0px;top:908.5px;width:98.3px;">NC</div><div class="t tc pn" style="left:937.3px;top:908.5px;width:27.4px;">14</div><div class="t tc" style="left:591.0px;top:930.2px;width:244.0px;">NOT CONNECT</div><div class="t tr" style="left:837.0px;top:930.2px;width:98.3px;">NC</div><div class="t tc pn" style="left:937.3px;top:930.2px;width:27.4px;">15</div><div class="t tc" style="left:591.0px;top:951.9px;width:244.0px;">RF POWER 5V</div><div class="t tr" style="left:837.0px;top:951.9px;width:98.3px;">VCC</div><div class="t tc pn" style="left:937.3px;top:951.9px;width:27.4px;">16</div><div class="t tc big" style="left:591.0px;top:973.7px;width:244.0px;">Voltage reference</div><div class="t tr" style="left:837.0px;top:973.7px;width:98.3px;">VREF</div><div class="t tc pn" style="left:937.3px;top:973.7px;width:27.4px;">17</div><div class="t tc" style="left:591.0px;top:995.4px;width:244.0px;">Digital  GROND </div><div class="t tr" style="left:837.0px;top:995.4px;width:98.3px;">GND</div><div class="t tc pn" style="left:937.3px;top:995.4px;width:27.4px;">18</div><div class="t tc" style="left:591.0px;top:1017.1px;width:244.0px;">DVD  VR</div><div class="t tr" style="left:837.0px;top:1017.1px;width:98.3px;">DVD_VR </div><div class="t tc pn" style="left:937.3px;top:1017.1px;width:27.4px;">19</div><div class="t tc" style="left:591.0px;top:1038.8px;width:244.0px;">DGND</div><div class="t tr" style="left:837.0px;top:1038.8px;width:98.3px;">PD_GND</div><div class="t tc pn" style="left:937.3px;top:1038.8px;width:27.4px;">20</div><div class="t tc" style="left:591.0px;top:1060.6px;width:244.0px;">DVD Laser   control  </div><div class="t tr" style="left:837.0px;top:1060.6px;width:98.3px;">DVD_LD </div><div class="t tc pn" style="left:937.3px;top:1060.6px;width:27.4px;">21</div><div class="t tc" style="left:591.0px;top:1082.3px;width:244.0px;">RF signal</div><div class="t tr" style="left:837.0px;top:1082.3px;width:98.3px;">RF</div><div class="t tc pn" style="left:937.3px;top:1082.3px;width:27.4px;">22</div><div class="t tc" style="left:591.0px;top:1104.0px;width:244.0px;">NOT CONNECT</div><div class="t tr" style="left:837.0px;top:1104.0px;width:98.3px;">NC</div><div class="t tc pn" style="left:937.3px;top:1104.0px;width:27.4px;">23</div><div class="t tr fn" style="left:591.0px;top:1190.9px;width:244.0px;">VFD Power Supply(+) </div><div class="t tr" style="left:837.0px;top:1190.9px;width:98.3px;">VFD+</div><div class="t tc pn" style="left:937.3px;top:1190.9px;width:27.4px;">1</div><div class="t tr fn" style="left:591.0px;top:1212.6px;width:244.0px;">MICOM Control SMPS Signal </div><div class="t tr" style="left:837.0px;top:1212.6px;width:98.3px;">P-ON</div><div class="t tc pn" style="left:937.3px;top:1212.6px;width:27.4px;">2</div><div class="t tr fn" style="left:591.0px;top:1234.4px;width:244.0px;">VFD Power Supply(-) </div><div class="t tr" style="left:837.0px;top:1234.4px;width:98.3px;">VFD-</div><div class="t tc pn" style="left:937.3px;top:1234.4px;width:27.4px;">3</div><div class="t tr fn" style="left:591.0px;top:1256.1px;width:244.0px;">GND</div><div class="t tr" style="left:837.0px;top:1256.1px;width:98.3px;">DGND</div><div class="t tc pn" style="left:937.3px;top:1256.1px;width:27.4px;">4</div><div class="t tr fn" style="left:591.0px;top:1277.8px;width:244.0px;">VFD Driver IC Power Supply  </div><div class="t tr" style="left:837.0px;top:1277.8px;width:98.3px;">VH</div><div class="t tc pn" style="left:937.3px;top:1277.8px;width:27.4px;">5</div><div class="t tr fn" style="left:591.0px;top:1299.5px;width:244.0px;">AMP/MPEG Power Supply</div><div class="t tr red" style="left:837.0px;top:1299.5px;width:98.3px;">A5.3V</div><div class="t tc pn" style="left:937.3px;top:1299.5px;width:27.4px;">6</div><div class="t tr fn" style="left:591.0px;top:1321.3px;width:244.0px;">GND</div><div class="t tr" style="left:837.0px;top:1321.3px;width:98.3px;">DGND</div><div class="t tc pn" style="left:937.3px;top:1321.3px;width:27.4px;">7</div><div class="t tr fn" style="left:591.0px;top:1343.0px;width:244.0px;">GND</div><div class="t tr" style="left:837.0px;top:1343.0px;width:98.3px;">DGND</div><div class="t tc pn" style="left:937.3px;top:1343.0px;width:27.4px;">8</div><div class="t tr fn" style="left:591.0px;top:1364.7px;width:244.0px;">AMP/MPEG Power Supply</div><div class="t tr" style="left:837.0px;top:1364.7px;width:98.3px;">VPS</div><div class="t tc pn" style="left:937.3px;top:1364.7px;width:27.4px;">9</div><div class="t tr fn" style="left:591.0px;top:1386.4px;width:244.0px;">GVDD</div><div class="t tr red" style="left:837.0px;top:1386.4px;width:98.3px;">A-5V</div><div class="t tc pn" style="left:937.3px;top:1386.4px;width:27.4px;">10</div><div class="t tr fn" style="left:591.0px;top:1408.2px;width:244.0px;">AMP GVDD Power(-) </div><div class="t tr" style="left:837.0px;top:1408.2px;width:98.3px;">-PVDD</div><div class="t tc pn" style="left:937.3px;top:1408.2px;width:27.4px;">11</div><div class="t tr fn" style="left:591.0px;top:1429.9px;width:244.0px;">AMP GVDD Power(-) </div><div class="t tr" style="left:837.0px;top:1429.9px;width:98.3px;">-PVDD</div><div class="t tc pn" style="left:937.3px;top:1429.9px;width:27.4px;">12</div><div class="t tr fn" style="left:591.0px;top:1451.6px;width:244.0px;">AMP GND</div><div class="t tr" style="left:837.0px;top:1451.6px;width:98.3px;">AGND</div><div class="t tc pn" style="left:937.3px;top:1451.6px;width:27.4px;">13</div><div class="t tr fn" style="left:591.0px;top:1473.3px;width:244.0px;">AMP GND</div><div class="t tr" style="left:837.0px;top:1473.3px;width:98.3px;">AGND</div><div class="t tc pn" style="left:937.3px;top:1473.3px;width:27.4px;">14</div><div class="t tr fn" style="left:591.0px;top:1495.1px;width:244.0px;">AMP GVDD Power(+) </div><div class="t tr" style="left:837.0px;top:1495.1px;width:98.3px;">+PVDD</div><div class="t tc pn" style="left:937.3px;top:1495.1px;width:27.4px;">15</div><div class="t tr fn" style="left:591.0px;top:1516.8px;width:244.0px;">AMP GVDD Power(+) </div><div class="t tr" style="left:837.0px;top:1516.8px;width:98.3px;">+PVDD</div><div class="t tc pn" style="left:937.3px;top:1516.8px;width:27.4px;">16</div><div class="t tc b" style="left:1067.0px;top:321.9px;width:437.0px;">UCN1</div><div class="t tc" style="left:1067.0px;top:343.6px;width:27.3px;">Pin</div><div class="t tc" style="left:1096.3px;top:343.6px;width:120.7px;">Signal</div><div class="t tc" style="left:1219.0px;top:343.6px;width:285.0px;">Function</div><div class="t tc pn" style="left:1067.0px;top:365.4px;width:27.3px;">1</div><div class="t tl" style="left:1096.3px;top:365.4px;width:120.7px;">VH</div><div class="t tl" style="left:1219.0px;top:365.4px;width:285.0px;">VFD Driver IC Power Supply  </div><div class="t tc pn" style="left:1067.0px;top:387.1px;width:27.3px;">2</div><div class="t tl" style="left:1096.3px;top:387.1px;width:120.7px;">VFD-</div><div class="t tl" style="left:1219.0px;top:387.1px;width:285.0px;">VFD Power Supply(-) </div><div class="t tc pn" style="left:1067.0px;top:408.8px;width:27.3px;">3</div><div class="t tl" style="left:1096.3px;top:408.8px;width:120.7px;">VFD+</div><div class="t tl" style="left:1219.0px;top:408.8px;width:285.0px;">VFD Power Supply(+) </div><div class="t tc pn" style="left:1067.0px;top:430.5px;width:27.3px;">4</div><div class="t tl" style="left:1096.3px;top:430.5px;width:120.7px;">DGND</div><div class="t tl" style="left:1219.0px;top:430.5px;width:285.0px;">GND</div><div class="t tc pn" style="left:1067.0px;top:452.3px;width:27.3px;">5</div><div class="t tl" style="left:1096.3px;top:452.3px;width:120.7px;">VFD_CE</div><div class="t tl" style="left:1219.0px;top:452.3px;width:285.0px;">VFD Enable</div><div class="t tc pn" style="left:1067.0px;top:474.0px;width:27.3px;">6</div><div class="t tl" style="left:1096.3px;top:474.0px;width:120.7px;">VFD_CLK</div><div class="t tl" style="left:1219.0px;top:474.0px;width:285.0px;">VFD Working Clock Signal  </div><div class="t tc pn" style="left:1067.0px;top:495.7px;width:27.3px;">7</div><div class="t tl" style="left:1096.3px;top:495.7px;width:120.7px;">VFD_DO</div><div class="t tl" style="left:1219.0px;top:495.7px;width:285.0px;">VFD Data</div><div class="t tc pn" style="left:1067.0px;top:517.4px;width:27.3px;">8</div><div class="t tl" style="left:1096.3px;top:517.4px;width:120.7px;">JOG-</div><div class="t tl" style="left:1219.0px;top:517.4px;width:285.0px;">Volume Down</div><div class="t tc pn" style="left:1067.0px;top:539.2px;width:27.3px;">9</div><div class="t tl" style="left:1096.3px;top:539.2px;width:120.7px;">JOG+</div><div class="t tl" style="left:1219.0px;top:539.2px;width:285.0px;">Volume Up</div><div class="t tc pn" style="left:1067.0px;top:560.9px;width:27.3px;">10</div><div class="t tl" style="left:1096.3px;top:560.9px;width:120.7px;">KEY_AD2</div><div class="t tl" style="left:1219.0px;top:560.9px;width:285.0px;">Key  Signal 2</div><div class="t tc pn" style="left:1067.0px;top:582.6px;width:27.3px;">11</div><div class="t tl" style="left:1096.3px;top:582.6px;width:120.7px;">KEY_AD1</div><div class="t tl" style="left:1219.0px;top:582.6px;width:285.0px;">Key  Signal 1</div><div class="t tc pn" style="left:1067.0px;top:604.3px;width:27.3px;">12</div><div class="t tl" style="left:1096.3px;top:604.3px;width:120.7px;">DGND</div><div class="t tl" style="left:1219.0px;top:604.3px;width:285.0px;">GND</div><div class="t tc pn" style="left:1067.0px;top:626.1px;width:27.3px;">13</div><div class="t tl" style="left:1096.3px;top:626.1px;width:120.7px;">REMOCON</div><div class="t tl" style="left:1219.0px;top:626.1px;width:285.0px;">REMOCON Eye Signal</div><div class="t tc pn" style="left:1067.0px;top:647.8px;width:27.3px;">14</div><div class="t tl red" style="left:1096.3px;top:647.8px;width:120.7px;">5.1V</div><div class="t tl" style="left:1219.0px;top:647.8px;width:285.0px;">Abov/Driver IC Power Supply  </div><div class="t tc pn" style="left:1067.0px;top:669.5px;width:27.3px;">15</div><div class="t tl red" style="left:1096.3px;top:669.5px;width:120.7px;">USB1_5.2V</div><div class="t tl" style="left:1219.0px;top:669.5px;width:285.0px;">USB Power Supply</div><div class="t tc pn" style="left:1067.0px;top:691.2px;width:27.3px;">16</div><div class="t tl red" style="left:1096.3px;top:691.2px;width:120.7px;">5.1V</div><div class="t tl" style="left:1219.0px;top:691.2px;width:285.0px;">Abov/Driver IC Power Supply  </div><div class="t tc pn" style="left:1067.0px;top:713.0px;width:27.3px;">17</div><div class="t tl" style="left:1096.3px;top:713.0px;width:120.7px;">USB1_DN</div><div class="t tl" style="left:1219.0px;top:713.0px;width:285.0px;">USB Differential Signal  </div><div class="t tc pn" style="left:1067.0px;top:734.7px;width:27.3px;">18</div><div class="t tl" style="left:1096.3px;top:734.7px;width:120.7px;">USB1_DN</div><div class="t tl" style="left:1219.0px;top:734.7px;width:285.0px;">USB Differential Signal  </div><div class="t tc pn" style="left:1067.0px;top:756.4px;width:27.3px;">19</div><div class="t tl" style="left:1096.3px;top:756.4px;width:120.7px;">USB1_DP</div><div class="t tl" style="left:1219.0px;top:756.4px;width:285.0px;">USB Differential Signal  </div><div class="t tc pn" style="left:1067.0px;top:778.1px;width:27.3px;">20</div><div class="t tl" style="left:1096.3px;top:778.1px;width:120.7px;">USB1_DP</div><div class="t tl" style="left:1219.0px;top:778.1px;width:285.0px;">USB Differential Signal  </div><div class="t tc pn" style="left:1067.0px;top:799.9px;width:27.3px;">21</div><div class="t tl red" style="left:1096.3px;top:799.9px;width:120.7px;">USB2_5.2V</div><div class="t tl" style="left:1219.0px;top:799.9px;width:285.0px;">USB Power Supply</div><div class="t tc pn" style="left:1067.0px;top:821.6px;width:27.3px;">22</div><div class="t tl" style="left:1096.3px;top:821.6px;width:120.7px;">DGND</div><div class="t tl" style="left:1219.0px;top:821.6px;width:285.0px;">GND</div><div class="t tc pn" style="left:1067.0px;top:843.3px;width:27.3px;">23</div><div class="t tl" style="left:1096.3px;top:843.3px;width:120.7px;">USB2_DN</div><div class="t tl" style="left:1219.0px;top:843.3px;width:285.0px;">USB Differential Signal  </div><div class="t tc pn" style="left:1067.0px;top:865.0px;width:27.3px;">24</div><div class="t tl" style="left:1096.3px;top:865.0px;width:120.7px;">USB2_DN</div><div class="t tl" style="left:1219.0px;top:865.0px;width:285.0px;">USB Differential Signal  </div><div class="t tc pn" style="left:1067.0px;top:886.8px;width:27.3px;">25</div><div class="t tl" style="left:1096.3px;top:886.8px;width:120.7px;">USB2_DP</div><div class="t tl" style="left:1219.0px;top:886.8px;width:285.0px;">USB Differential Signal  </div><div class="t tc pn" style="left:1067.0px;top:908.5px;width:27.3px;">26</div><div class="t tl" style="left:1096.3px;top:908.5px;width:120.7px;">USB2_DP</div><div class="t tl" style="left:1219.0px;top:908.5px;width:285.0px;">USB Differential Signal  </div><div class="t tc pn" style="left:1067.0px;top:930.2px;width:27.3px;">27</div><div class="t tl" style="left:1096.3px;top:930.2px;width:120.7px;">DGND</div><div class="t tl" style="left:1219.0px;top:930.2px;width:285.0px;">GND</div><div class="t tc b" style="left:1067.0px;top:973.7px;width:437.0px;">BTCN1</div><div class="t tc" style="left:1067.0px;top:995.4px;width:27.3px;">Pin</div><div class="t tc" style="left:1096.3px;top:995.4px;width:120.7px;">Signal</div><div class="t tc" style="left:1219.0px;top:995.4px;width:285.0px;">Function</div><div class="t tc pn" style="left:1067.0px;top:1017.1px;width:27.3px;">1</div><div class="t tl" style="left:1096.3px;top:1017.1px;width:120.7px;">BT_RST</div><div class="t tl" style="left:1219.0px;top:1017.1px;width:285.0px;">BT Reset Signal</div><div class="t tc pn" style="left:1067.0px;top:1038.8px;width:27.3px;">2</div><div class="t tl red" style="left:1096.3px;top:1038.8px;width:120.7px;">MP3.3V_PW</div><div class="t tl" style="left:1219.0px;top:1038.8px;width:285.0px;">BT Power Supply</div><div class="t tc pn" style="left:1067.0px;top:1060.6px;width:27.3px;">3</div><div class="t tl" style="left:1096.3px;top:1060.6px;width:120.7px;">BT_RXT</div><div class="t tl" style="left:1219.0px;top:1060.6px;width:285.0px;">BT Communicate Signal (Receive)  </div><div class="t tc pn" style="left:1067.0px;top:1082.3px;width:27.3px;">4</div><div class="t tl" style="left:1096.3px;top:1082.3px;width:120.7px;">BT_TXD</div><div class="t tl" style="left:1219.0px;top:1082.3px;width:285.0px;">BT Communicate Signal (Send) </div><div class="t tc pn" style="left:1067.0px;top:1104.0px;width:27.3px;">5</div><div class="t tl" style="left:1096.3px;top:1104.0px;width:120.7px;">GND</div><div class="t tl" style="left:1219.0px;top:1104.0px;width:285.0px;">GND</div><div class="t tc pn" style="left:1067.0px;top:1125.7px;width:27.3px;">6</div><div class="t tl" style="left:1096.3px;top:1125.7px;width:120.7px;">I2C_SCL</div><div class="t tl" style="left:1219.0px;top:1125.7px;width:285.0px;">I2C_SCL</div><div class="t tc pn" style="left:1067.0px;top:1147.5px;width:27.3px;">7</div><div class="t tl" style="left:1096.3px;top:1147.5px;width:120.7px;">I2C_SDA</div><div class="t tl" style="left:1219.0px;top:1147.5px;width:285.0px;">I2C_SDA</div><div class="t tc pn" style="left:1067.0px;top:1169.2px;width:27.3px;">8</div><div class="t tl" style="left:1096.3px;top:1169.2px;width:120.7px;">GND</div><div class="t tl" style="left:1219.0px;top:1169.2px;width:285.0px;">GND</div><div class="t tc pn" style="left:1067.0px;top:1190.9px;width:27.3px;">9</div><div class="t tl" style="left:1096.3px;top:1190.9px;width:120.7px;">NC</div><div class="t tl" style="left:1219.0px;top:1190.9px;width:285.0px;">NOT CONNECT</div><div class="t tc pn" style="left:1067.0px;top:1212.6px;width:27.3px;">10</div><div class="t tl" style="left:1096.3px;top:1212.6px;width:120.7px;">NC</div><div class="t tl" style="left:1219.0px;top:1212.6px;width:285.0px;">NOT CONNECT</div><div class="t tr fn" style="left:1541.0px;top:343.6px;width:244.0px;">Function</div><div class="t tr" style="left:1787.0px;top:343.6px;width:113.7px;">Signal</div><div class="t tc" style="left:1902.7px;top:343.6px;width:27.3px;">Pin</div><div class="t tr fn" style="left:1541.0px;top:365.4px;width:244.0px;">VFD Driver IC Power Supply  </div><div class="t tr" style="left:1787.0px;top:365.4px;width:113.7px;">VH</div><div class="t tc pn" style="left:1902.7px;top:365.4px;width:27.3px;">1</div><div class="t tr fn" style="left:1541.0px;top:387.1px;width:244.0px;">VFD Power Supply(-) </div><div class="t tr" style="left:1787.0px;top:387.1px;width:113.7px;">VFD-</div><div class="t tc pn" style="left:1902.7px;top:387.1px;width:27.3px;">2</div><div class="t tr fn" style="left:1541.0px;top:408.8px;width:244.0px;">VFD Power Supply(+) </div><div class="t tr" style="left:1787.0px;top:408.8px;width:113.7px;">VFD+</div><div class="t tc pn" style="left:1902.7px;top:408.8px;width:27.3px;">3</div><div class="t tr fn" style="left:1541.0px;top:430.5px;width:244.0px;">GND</div><div class="t tr" style="left:1787.0px;top:430.5px;width:113.7px;">DGND</div><div class="t tc pn" style="left:1902.7px;top:430.5px;width:27.3px;">4</div><div class="t tr fn" style="left:1541.0px;top:452.3px;width:244.0px;">VFD Enable</div><div class="t tr" style="left:1787.0px;top:452.3px;width:113.7px;">VFD_CE</div><div class="t tc pn" style="left:1902.7px;top:452.3px;width:27.3px;">5</div><div class="t tr fn" style="left:1541.0px;top:474.0px;width:244.0px;">VFD Working Clock Signal  </div><div class="t tr" style="left:1787.0px;top:474.0px;width:113.7px;">VFD_CLK</div><div class="t tc pn" style="left:1902.7px;top:474.0px;width:27.3px;">6</div><div class="t tr fn" style="left:1541.0px;top:495.7px;width:244.0px;">VFD Data</div><div class="t tr" style="left:1787.0px;top:495.7px;width:113.7px;">VFD_DO</div><div class="t tc pn" style="left:1902.7px;top:495.7px;width:27.3px;">7</div><div class="t tr fn" style="left:1541.0px;top:517.4px;width:244.0px;">Volume Down</div><div class="t tr" style="left:1787.0px;top:517.4px;width:113.7px;">JOG-</div><div class="t tc pn" style="left:1902.7px;top:517.4px;width:27.3px;">8</div><div class="t tr fn" style="left:1541.0px;top:539.2px;width:244.0px;">Volume Up</div><div class="t tr" style="left:1787.0px;top:539.2px;width:113.7px;">JOG+</div><div class="t tc pn" style="left:1902.7px;top:539.2px;width:27.3px;">9</div><div class="t tr fn" style="left:1541.0px;top:560.9px;width:244.0px;">Key  Signal 2</div><div class="t tr" style="left:1787.0px;top:560.9px;width:113.7px;">KEY_AD2</div><div class="t tc pn" style="left:1902.7px;top:560.9px;width:27.3px;">10</div><div class="t tr fn" style="left:1541.0px;top:582.6px;width:244.0px;">Key  Signal 1</div><div class="t tr" style="left:1787.0px;top:582.6px;width:113.7px;">KEY_AD1</div><div class="t tc pn" style="left:1902.7px;top:582.6px;width:27.3px;">11</div><div class="t tr fn" style="left:1541.0px;top:604.3px;width:244.0px;">GND</div><div class="t tr" style="left:1787.0px;top:604.3px;width:113.7px;">DGND</div><div class="t tc pn" style="left:1902.7px;top:604.3px;width:27.3px;">12</div><div class="t tr fn" style="left:1541.0px;top:626.1px;width:244.0px;">REMOCON Eye Signal</div><div class="t tr" style="left:1787.0px;top:626.1px;width:113.7px;">REMOCON</div><div class="t tc pn" style="left:1902.7px;top:626.1px;width:27.3px;">13</div><div class="t tr fn" style="left:1541.0px;top:647.8px;width:244.0px;">Abov/Driver IC Power Supply  </div><div class="t tr red" style="left:1787.0px;top:647.8px;width:113.7px;">5.1V</div><div class="t tc pn" style="left:1902.7px;top:647.8px;width:27.3px;">14</div><div class="t tr fn" style="left:1541.0px;top:669.5px;width:244.0px;">USB Power Supply</div><div class="t tr red" style="left:1787.0px;top:669.5px;width:113.7px;">USB1_5.2V</div><div class="t tc pn" style="left:1902.7px;top:669.5px;width:27.3px;">15</div><div class="t tr fn" style="left:1541.0px;top:691.2px;width:244.0px;">Abov/Driver IC Power Supply  </div><div class="t tr red" style="left:1787.0px;top:691.2px;width:113.7px;">5.1V</div><div class="t tc pn" style="left:1902.7px;top:691.2px;width:27.3px;">16</div><div class="t tr fn" style="left:1541.0px;top:713.0px;width:244.0px;">USB Differential Signal  </div><div class="t tr" style="left:1787.0px;top:713.0px;width:113.7px;">USB1_DN</div><div class="t tc pn" style="left:1902.7px;top:713.0px;width:27.3px;">17</div><div class="t tr fn" style="left:1541.0px;top:734.7px;width:244.0px;">USB Differential Signal  </div><div class="t tr" style="left:1787.0px;top:734.7px;width:113.7px;">USB1_DN</div><div class="t tc pn" style="left:1902.7px;top:734.7px;width:27.3px;">18</div><div class="t tr fn" style="left:1541.0px;top:756.4px;width:244.0px;">USB Differential Signal  </div><div class="t tr" style="left:1787.0px;top:756.4px;width:113.7px;">USB1_DP</div><div class="t tc pn" style="left:1902.7px;top:756.4px;width:27.3px;">19</div><div class="t tr fn" style="left:1541.0px;top:778.1px;width:244.0px;">USB Differential Signal  </div><div class="t tr" style="left:1787.0px;top:778.1px;width:113.7px;">USB1_DP</div><div class="t tc pn" style="left:1902.7px;top:778.1px;width:27.3px;">20</div><div class="t tr fn" style="left:1541.0px;top:799.9px;width:244.0px;">USB Power Supply</div><div class="t tr red" style="left:1787.0px;top:799.9px;width:113.7px;">USB2_5.2V</div><div class="t tc pn" style="left:1902.7px;top:799.9px;width:27.3px;">21</div><div class="t tr fn" style="left:1541.0px;top:821.6px;width:244.0px;">GND</div><div class="t tr" style="left:1787.0px;top:821.6px;width:113.7px;">DGND</div><div class="t tc pn" style="left:1902.7px;top:821.6px;width:27.3px;">22</div><div class="t tr fn" style="left:1541.0px;top:843.3px;width:244.0px;">USB Differential Signal  </div><div class="t tr" style="left:1787.0px;top:843.3px;width:113.7px;">USB2_DN</div><div class="t tc pn" style="left:1902.7px;top:843.3px;width:27.3px;">23</div><div class="t tr fn" style="left:1541.0px;top:865.0px;width:244.0px;">USB Differential Signal  </div><div class="t tr" style="left:1787.0px;top:865.0px;width:113.7px;">USB2_DN</div><div class="t tc pn" style="left:1902.7px;top:865.0px;width:27.3px;">24</div><div class="t tr fn" style="left:1541.0px;top:886.8px;width:244.0px;">USB Differential Signal  </div><div class="t tr" style="left:1787.0px;top:886.8px;width:113.7px;">USB2_DP</div><div class="t tc pn" style="left:1902.7px;top:886.8px;width:27.3px;">25</div><div class="t tr fn" style="left:1541.0px;top:908.5px;width:244.0px;">USB Differential Signal  </div><div class="t tr" style="left:1787.0px;top:908.5px;width:113.7px;">USB2_DP</div><div class="t tc pn" style="left:1902.7px;top:908.5px;width:27.3px;">26</div><div class="t tr fn" style="left:1541.0px;top:930.2px;width:244.0px;">GND</div><div class="t tr" style="left:1787.0px;top:930.2px;width:113.7px;">DGND</div><div class="t tc pn" style="left:1902.7px;top:930.2px;width:27.3px;">27</div><div class="t tc b" style="left:1541.0px;top:973.7px;width:389.0px;">BT</div><div class="t tc" style="left:1541.0px;top:995.4px;width:244.0px;">Function</div><div class="t tc" style="left:1787.0px;top:995.4px;width:113.7px;">Signal</div><div class="t tc" style="left:1902.7px;top:995.4px;width:27.3px;">Pin</div><div class="t tr fn" style="left:1541.0px;top:1017.1px;width:244.0px;">BT Reset Signal</div><div class="t tr" style="left:1787.0px;top:1017.1px;width:113.7px;">BT_RST</div><div class="t tc pn" style="left:1902.7px;top:1017.1px;width:27.3px;">1</div><div class="t tr fn" style="left:1541.0px;top:1038.8px;width:244.0px;">BT Power Supply</div><div class="t tr red" style="left:1787.0px;top:1038.8px;width:113.7px;">MP3.3V_PW</div><div class="t tc pn" style="left:1902.7px;top:1038.8px;width:27.3px;">2</div><div class="t tr fn" style="left:1541.0px;top:1060.6px;width:244.0px;">BT Communicate Signal (Receive)  </div><div class="t tr" style="left:1787.0px;top:1060.6px;width:113.7px;">BT_RXT</div><div class="t tc pn" style="left:1902.7px;top:1060.6px;width:27.3px;">3</div><div class="t tr fn" style="left:1541.0px;top:1082.3px;width:244.0px;">BT Communicate Signal (Send) </div><div class="t tr" style="left:1787.0px;top:1082.3px;width:113.7px;">BT_TXD</div><div class="t tc pn" style="left:1902.7px;top:1082.3px;width:27.3px;">4</div><div class="t tr fn" style="left:1541.0px;top:1104.0px;width:244.0px;">GND</div><div class="t tr" style="left:1787.0px;top:1104.0px;width:113.7px;">GND</div><div class="t tc pn" style="left:1902.7px;top:1104.0px;width:27.3px;">5</div><div class="t tr fn" style="left:1541.0px;top:1125.7px;width:244.0px;">I2C_SCL</div><div class="t tr" style="left:1787.0px;top:1125.7px;width:113.7px;">I2C_SCL</div><div class="t tc pn" style="left:1902.7px;top:1125.7px;width:27.3px;">6</div><div class="t tr fn" style="left:1541.0px;top:1147.5px;width:244.0px;">I2C_SDA</div><div class="t tr" style="left:1787.0px;top:1147.5px;width:113.7px;">I2C_SDA</div><div class="t tc pn" style="left:1902.7px;top:1147.5px;width:27.3px;">7</div><div class="t tr fn" style="left:1541.0px;top:1169.2px;width:244.0px;">GND</div><div class="t tr" style="left:1787.0px;top:1169.2px;width:113.7px;">GND</div><div class="t tc pn" style="left:1902.7px;top:1169.2px;width:27.3px;">8</div><div class="t tr fn" style="left:1541.0px;top:1190.9px;width:244.0px;">NOT CONNECT</div><div class="t tr" style="left:1787.0px;top:1190.9px;width:113.7px;">NC</div><div class="t tc pn" style="left:1902.7px;top:1190.9px;width:27.3px;">9</div><div class="t tr fn" style="left:1541.0px;top:1212.6px;width:244.0px;">NOT CONNECT</div><div class="t tr" style="left:1787.0px;top:1212.6px;width:113.7px;">NC</div><div class="t tc pn" style="left:1902.7px;top:1212.6px;width:27.3px;">10</div>
<div class="lab rot" style="left:138.0px;top:727.4px;font-size:37px;transform:translate(-50%,-50%) rotate(90deg) scaleX(0.93)">Deck</div><div class="lab rot" style="left:139.4px;top:1346.3px;font-size:38px;transform:translate(-50%,-50%) rotate(90deg) scaleX(0.93)">SMPS</div><div class="lab rot" style="left:1993.5px;top:1104.9px;font-size:38px;transform:translate(-50%,-50%) rotate(90deg) scaleX(0.94)">BT ASSY</div><div class="lab rot" style="left:2016.2px;top:641.8px;font-size:37.5px;transform:translate(-50%,-50%) rotate(90deg) scaleX(0.92)">Front</div><div class="lab rot" style="left:1970.2px;top:639.6px;font-size:37.5px;transform:translate(-50%,-50%) rotate(90deg) scaleX(0.96)">JACK</div><div class="lab" style="left:1017.4px;top:930.5px;font-size:37px;transform:translate(-50%,-50%) scaleX(0.94)">Main</div>
</body></html>
